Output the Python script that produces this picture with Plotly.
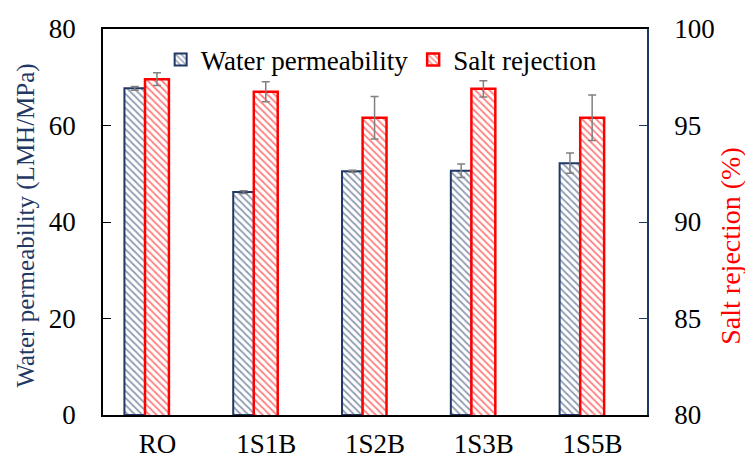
import plotly.graph_objects as go

# Membrane performance per sample
samples = ["RO", "1S1B", "1S2B", "1S3B", "1S5B"]
permeability = [67.7, 46.2, 50.5, 50.6, 52.2]          # LMH/MPa
permeability_err = [0.4, 0.3, 0.2, 1.4, 2.1]
rejection = [97.4, 96.75, 95.4, 96.9, 95.4]            # %
rejection_err = [0.33, 0.52, 1.1, 0.42, 1.18]

NAVY = "#1F3864"
RED = "#FF0000"
FONT = "Liberation Serif"
xpos = list(range(len(samples)))
tick_font = dict(family=FONT, size=27, color="black")

fig = go.Figure()

fig.add_trace(go.Bar(
    x=xpos, y=permeability, name="Water permeability",
    offset=-0.303, width=0.19,
    marker=dict(color="white", line=dict(color=NAVY, width=2),
                pattern=dict(shape="\\", fgcolor=NAVY, bgcolor="white",
                             size=5, solidity=0.35)),
    error_y=dict(type="data", array=permeability_err, color="#808080",
                 thickness=1.5, width=4),
    yaxis="y",
))

fig.add_trace(go.Bar(
    x=xpos, y=rejection, name="Salt rejection",
    offset=-0.114, width=0.22,
    marker=dict(color="white", line=dict(color=RED, width=2.5),
                pattern=dict(shape="\\", fgcolor=RED, bgcolor="white",
                             size=5, solidity=0.35)),
    error_y=dict(type="data", array=rejection_err, color="#808080",
                 thickness=1.5, width=4),
    yaxis="y2",
))

fig.update_layout(
    width=745, height=461,
    margin=dict(l=103, r=98, t=29, b=46),
    plot_bgcolor="white", paper_bgcolor="white",
    font=dict(family=FONT, size=27, color="black"),
    barmode="overlay",
    showlegend=True,
    legend=dict(orientation="h", x=0.106, xanchor="left", y=0.92,
                yanchor="middle", bgcolor="rgba(0,0,0,0)",
                font=dict(family=FONT, size=27, color="black")),
    xaxis=dict(range=[-0.5, 4.5], tickvals=xpos, ticktext=samples,
               showline=True, linecolor="black", linewidth=1.5, mirror=True,
               ticks="", showgrid=False, zeroline=False, automargin=False,
               tickfont=tick_font, ticklabelstandoff=4),
    yaxis=dict(range=[0, 80], dtick=20, showline=True, linecolor="black",
               linewidth=1.5, ticks="inside", ticklen=8, tickcolor="black",
               showgrid=False, zeroline=False, automargin=False,
               tickfont=tick_font, ticklabelstandoff=20),
    yaxis2=dict(range=[80, 100], dtick=5, overlaying="y", side="right",
                showline=True, linecolor=NAVY, linewidth=1.5,
                ticks="inside", ticklen=8, tickcolor=NAVY,
                showgrid=False, zeroline=False, automargin=False,
                tickfont=tick_font, ticklabelstandoff=20),
    annotations=[
        dict(text="Water permeability (LMH/MPa)", textangle=-90,
             xref="paper", yref="paper", x=-0.142, y=0.49,
             xanchor="center", yanchor="middle", showarrow=False,
             font=dict(family=FONT, size=25, color=NAVY)),
        dict(text="Salt rejection (%)", textangle=-90,
             xref="paper", yref="paper", x=1.154, y=0.438,
             xanchor="center", yanchor="middle", showarrow=False,
             font=dict(family=FONT, size=28, color=RED)),
    ],
)

fig.write_html("out.html")
